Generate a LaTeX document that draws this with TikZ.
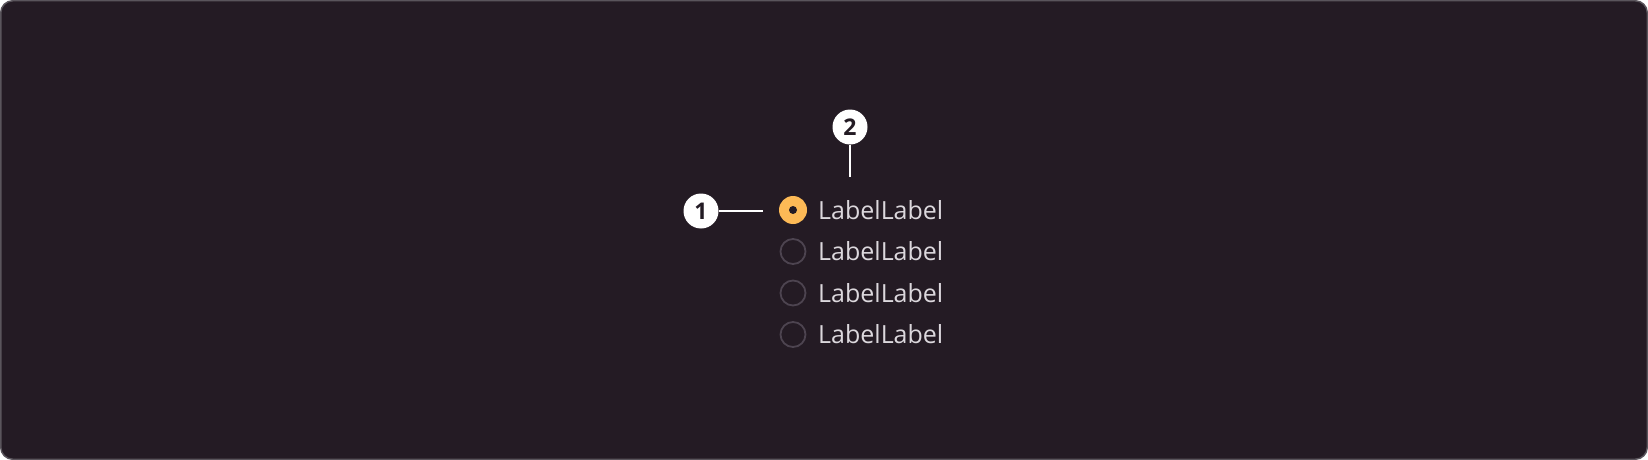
\documentclass[tikz,border=0pt]{standalone}
\usepackage{fontspec}
\setmainfont{Open Sans}
\newfontfamily\badgefont{Open Sans}
\definecolor{bgc}{HTML}{241B24}
\definecolor{framec}{HTML}{5A555C}
\definecolor{textc}{HTML}{DCD8DD}
\definecolor{radoff}{HTML}{4D4450}
\definecolor{radon}{HTML}{FDBA56}
\definecolor{darkc}{HTML}{231B24}
\tikzset{
  badge/.style={circle,fill=white,inner sep=0pt,minimum size=35pt,text=darkc,font=\badgefont\bfseries\fontsize{23}{23}\selectfont},
  leader/.style={draw=white,line width=1.6pt},
  radiooff/.style={circle,draw=radoff,line width=1.8pt,inner sep=0pt,minimum size=25pt},
  radioon/.style={circle,fill=radon,inner sep=0pt,minimum size=28pt},
  dotc/.style={circle,fill=darkc,inner sep=0pt,minimum size=8pt},
  lbl/.style={anchor=west,text=textc,inner sep=0pt,font=\fontsize{25}{25}\selectfont}
}
\begin{document}
\begin{tikzpicture}[x=1pt,y=-1pt]
\useasboundingbox (0,0) rectangle (1648,460);
\draw[fill=bgc,draw=framec,line width=1.5pt,rounded corners=12pt] (0.75,0.75) rectangle (1647.25,459.25);
% radios
\node[radioon] (r1) at (793,210) {};
\node[dotc] (d1) at (r1.center) {};
\node[radiooff] (r2) at (793,251.5) {};
\node[radiooff] (r3) at (793,293) {};
\node[radiooff] (r4) at (793,334.5) {};
\node[lbl] (l1) at (818,210) {LabelLabel};
\node[lbl] (l2) at (818,251.5) {LabelLabel};
\node[lbl] (l3) at (818,293) {LabelLabel};
\node[lbl] (l4) at (818,334.5) {LabelLabel};
% badges
\node[badge] (b1) at (701,211) {1};
\node[badge] (b2) at (850,127) {2};
\coordinate (e1) at (763,211);
\coordinate (e2) at (850,177);
\draw[leader] (b1.east) -- (e1);
\draw[leader] (b2.south) -- (e2);
\end{tikzpicture}
\end{document}
